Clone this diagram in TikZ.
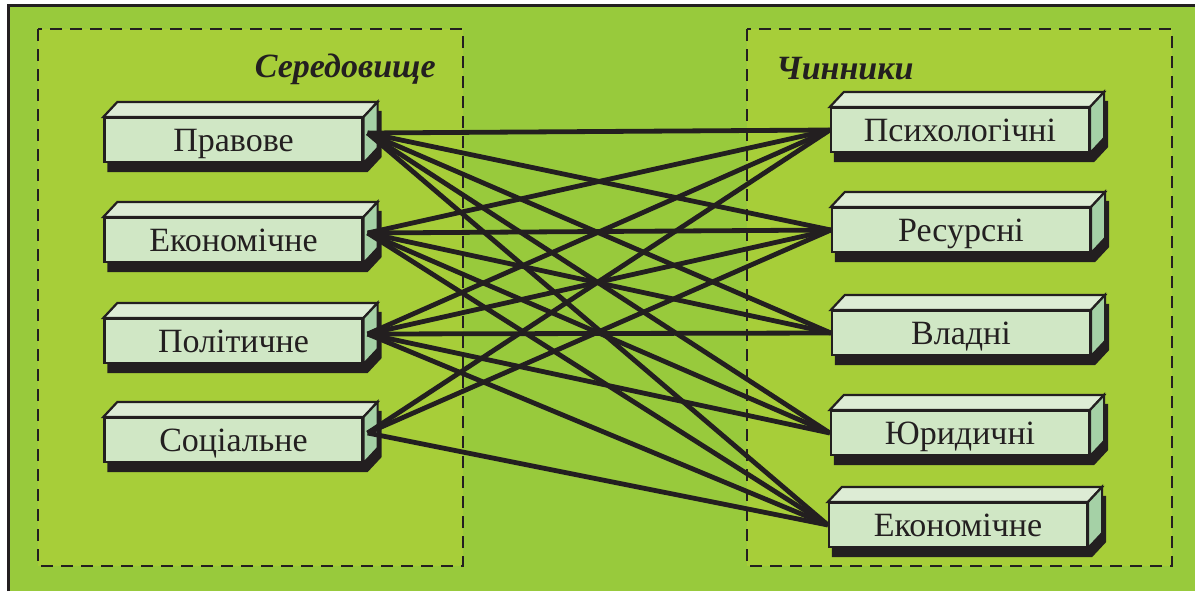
\documentclass[tikz,border=0pt]{standalone}
\usepackage{fontspec}
\setmainfont{Liberation Serif}
\usepackage{tikz}
\usetikzlibrary{calc,positioning}
\usepackage{xcolor}

\definecolor{ink}{HTML}{231F20}
\definecolor{outgreen}{HTML}{98CA3C}
\definecolor{ingreen}{HTML}{A7CE39}
\definecolor{frontc}{HTML}{D0E7C5}
\definecolor{topc}{HTML}{DDECD5}
\definecolor{sidec}{HTML}{A5D1A6}

\pgfdeclarelayer{shade}
\pgfsetlayers{shade,main}

\begin{document}
\begin{tikzpicture}[x=0.5pt, y=-0.5pt,
        blok/.style={draw=ink, line width=1.1pt, fill=frontc, minimum width=129pt,
                     minimum height=22pt, inner sep=0pt, text=ink,
                     text height=13pt, text depth=2pt,
                     font=\fontsize{17}{19}\selectfont},
        titel/.style={text=ink, inner sep=0pt, font=\fontsize{17}{19}\selectfont\bfseries\itshape},
        kader/.style={draw=ink, fill=ingreen, line width=1.3pt, dash pattern=on 6pt off 4pt},
        topface/.style={draw=ink, line width=1.1pt, fill=topc},
        sideface/.style={draw=ink, line width=1.1pt, fill=sidec},
        band/.style={draw=ink, line width=2.4pt}
    ]
    \useasboundingbox (0,0) rectangle (1195,591);

    % ---- achtergrond ----
    \begin{pgfonlayer}{shade}
    \fill[outgreen] (8,5) rectangle (1195,591);
    \draw[ink, line width=1.5pt] (8,591) -- (8,5) -- (1195,5);
    \draw[kader] (38,29) rectangle (463,566);
    \draw[kader] (747,29) rectangle (1172,566);
    \end{pgfonlayer}

    \node[titel, anchor=east] (t1) at (436,69) {Середовище};
    \node[titel, anchor=west] (t2) at (776,69) {Чинники};

    % ---- Середовище ----
    \node[blok] (pr) at (233.5,140) {Правове};
    \node[blok] (ek) at (233.5,240) {Економічне};
    \node[blok] (po) at (233.5,341) {Політичне};
    \node[blok] (so) at (233.5,440) {Соціальне};

    % ---- Чинники ----
    \node[blok] (ps) at (960,130) {Психологічні};
    \node[blok] (re) at (961,230) {Ресурсні};
    \node[blok] (vl) at (961,333) {Владні};
    \node[blok] (yu) at (960,433) {Юридичні};
    \node[blok] (ek2) at (958,525) {Економічне};

    % 3D-vlakken en schaduw
    \foreach \n in {pr,ek,po,so,ps,re,vl,yu,ek2} {
        \begin{pgfonlayer}{shade}
        \fill[ink] ($(\n.south west)+(4,9)$) -- ($(\n.north west)+(4,9)$) -- ++(14,-15)
            -- ($(\n.north east)+(18,-6)$) -- ($(\n.south east)+(18,-6)$)
            -- ($(\n.south east)+(4,9)$) -- cycle;
        \end{pgfonlayer}
        \filldraw[topface] (\n.north west) -- ++(14,-15) -- ($(\n.north east)+(14,-15)$)
            -- (\n.north east) -- cycle;
        \filldraw[sideface] (\n.north east) -- ++(14,-15) -- ($(\n.south east)+(14,-15)$)
            -- (\n.south east) -- cycle;
    }

    % Verbindingen
    \foreach \a/\b in {pr/ps, pr/re, pr/vl, pr/yu, pr/ek2,
                       ek/ps, ek/re, ek/vl, ek/yu, ek/ek2,
                       po/ps, po/re, po/vl, po/yu, po/ek2,
                       so/ps, so/re, so/ek2}
        \draw[band] ($(\a.east)+(4,-7)$) -- (\b.west);

\end{tikzpicture}
\end{document}
